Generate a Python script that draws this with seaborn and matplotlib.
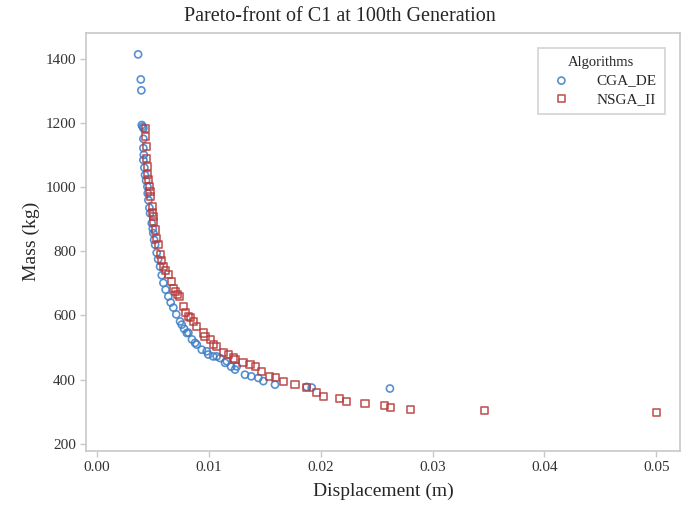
import seaborn as sns
from matplotlib import pyplot as plt
from matplotlib.ticker import FormatStrFormatter

cga_de_x = [0.00369, 0.00393, 0.00398, 0.00402, 0.00410, 0.00416, 0.00416, 0.00416,
            0.00420, 0.00416, 0.00425, 0.00431, 0.00440, 0.00452, 0.00455, 0.00461,
            0.00470, 0.00476, 0.00491, 0.00500, 0.00505, 0.00512, 0.00521, 0.00535,
            0.00548, 0.00565, 0.00580, 0.00595, 0.00615, 0.00639, 0.00660, 0.00684,
            0.00710, 0.00744, 0.00759, 0.00780, 0.00804, 0.00818, 0.00850, 0.00878,
            0.00893, 0.00938, 0.00982, 0.00996, 0.01040, 0.01071, 0.01101, 0.01146,
            0.01161, 0.01200, 0.01235, 0.01250, 0.01324, 0.01380, 0.01443, 0.01488,
            0.01592, 0.01875, 0.01920, 0.02619]
cga_de_y = [1413, 1335, 1301, 1193, 1188, 1183, 1150, 1121,
            1100, 1084, 1060, 1037, 1020, 1001, 980, 959,
            935, 918, 887, 870, 856, 835, 820, 795,
            775, 752, 725, 701, 680, 659, 640, 624,
            603, 581, 571, 558, 545, 546, 525, 514,
            509, 493, 488, 478, 472, 472, 467, 452,
            457, 440, 431, 441, 415, 410, 405, 395,
            384, 377, 375, 372]

nsga_ii_x = [0.00431, 0.00431, 0.00440, 0.00446, 0.00452, 0.00455, 0.00461, 0.00470,
             0.00475, 0.00482, 0.00494, 0.00500, 0.00505, 0.00505, 0.00521, 0.00535,
             0.00550, 0.00565, 0.00580, 0.00595, 0.00615, 0.00639, 0.00670, 0.00684,
             0.00700, 0.00720, 0.00740, 0.00773, 0.00790, 0.00818, 0.00833, 0.00860,
             0.00893, 0.00952, 0.00967, 0.01012, 0.01041, 0.01071, 0.01130, 0.01175,
             0.01220, 0.01235, 0.01306, 0.01369, 0.01420, 0.01473, 0.01547, 0.01600,
             0.01666, 0.01771, 0.01875, 0.01964, 0.02023, 0.02172, 0.02232, 0.02396,
             0.02574, 0.02625, 0.02804, 0.03467, 0.05000]
nsga_ii_y = [1182, 1156, 1125, 1089, 1063, 1040, 1022, 1001,
             985, 970, 939, 920, 908, 892, 866, 840,
             820, 789, 770, 752, 740, 726, 705, 685,
             675, 664, 660, 628, 610, 597, 594, 580,
             566, 545, 534, 524, 509, 504, 483, 478,
             467, 462, 453, 446, 440, 426, 410, 405,
             395, 384, 374, 359, 348, 341, 332, 325,
             320, 313, 308, 304, 298]

x_ticks = [0.00, 0.01, 0.02, 0.03, 0.04, 0.05]
y_ticks = [200, 400, 600, 800, 1000, 1200, 1400]

sns.set_style("ticks")
plt.rcParams['font.family'] = ['Liberation Serif', 'DejaVu Serif']

fig = plt.figure(figsize=(6.84, 5.14), dpi=100)
ax = fig.add_axes([0.126, 0.123, 0.868, 0.813])

series = [
    ("CGA_DE", cga_de_x, cga_de_y, "#3b7dc8", "o"),
    ("NSGA_II", nsga_ii_x, nsga_ii_y, "#b83a3a", "s"),
]
for name, xs, ys, c, m in series:
    sns.scatterplot(x=xs, y=ys, ax=ax, marker=m, s=26, color=c, linewidth=1.2,
                    label=name, alpha=0.85)
    coll = ax.collections[-1]
    coll.set_facecolor("none")
    coll.set_edgecolor(c)

ax.set_xlim(-0.00095, 0.0521)
ax.set_ylim(178, 1480)
ax.set_xticks(x_ticks)
ax.set_yticks(y_ticks)
ax.xaxis.set_major_formatter(FormatStrFormatter('%.2f'))

for sp in ax.spines.values():
    sp.set_color("#c8c8c8")
    sp.set_linewidth(1.2)
ax.tick_params(axis="both", colors="#c8c8c8", labelcolor="#333333",
               labelsize=11, length=4, width=1)

fig.suptitle("Pareto-front of C1 at 100th Generation", fontsize=14.5,
             x=0.497, y=0.987, va="top")
ax.set_xlabel("Displacement (m)", fontsize=14, labelpad=6)
ax.set_ylabel("Mass (kg)", fontsize=14, labelpad=4)

leg = ax.legend(title="Algorithms", loc="upper right", fontsize=11,
                title_fontsize=10.5, fancybox=False, frameon=True,
                borderpad=0.55, labelspacing=0.3, borderaxespad=0,
                handletextpad=1.3, bbox_to_anchor=(0.975, 0.964))
leg.get_frame().set_edgecolor("#c8c8c8")
leg.get_frame().set_linewidth(1.2)

fig.savefig("out.png", dpi=100)
